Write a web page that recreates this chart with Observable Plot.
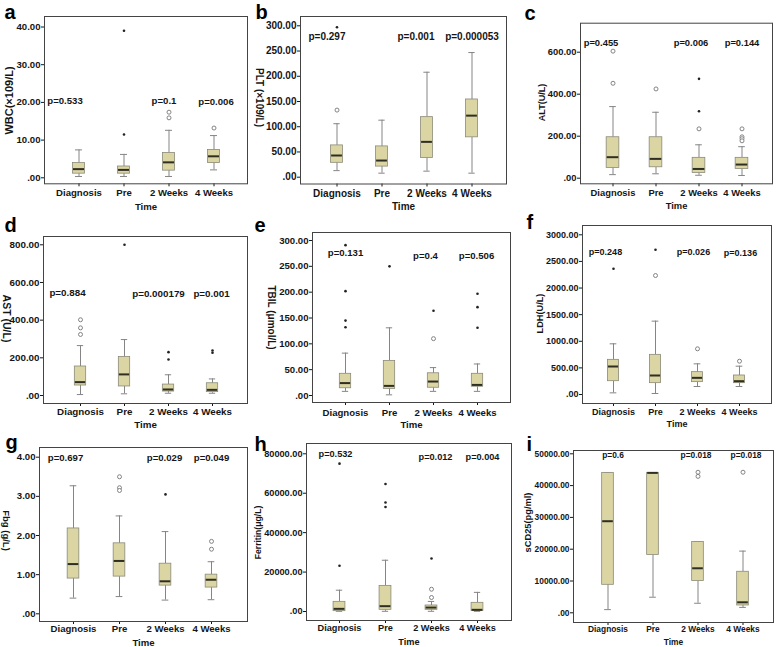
<!DOCTYPE html>
<html>
<head>
<meta charset="utf-8">
<script src="https://cdn.jsdelivr.net/npm/d3@7"></script>
<script src="https://cdn.jsdelivr.net/npm/@observablehq/plot@0.6"></script>
<style>
  body { margin: 0; background: white; }
  #chart { position: relative; width: 778px; height: 647px; background: white; overflow: hidden; }
</style>
</head>
<body>
<div id="chart"></div>
<script>
const categories = ["Diagnosis", "Pre", "2 Weeks", "4 Weeks"];

// Box statistics per category: [lower whisker, Q1, median, Q3, upper whisker]
const wbcBoxes = [[0.35, 1.1, 2.3, 3.9, 7.4], [0.35, 1.1, 2.1, 3.0, 6.2], [0.35, 1.9, 4.1, 6.6, 12.6], [2.1, 3.9, 5.7, 7.4, 11.2]];
const wbcOutliers = [[], [], [17.4, 15.9], [13.2]];
const wbcExtremes = [[], [39, 11.5], [], []];
const wbcP = ["p=0.533", "p=0.1", "p=0.006"];

const pltBoxes = [[13, 28.5, 43, 63, 106], [8, 21, 33, 61, 113], [12, 38, 70, 119, 208], [8, 79, 122, 154, 247]];
const pltOutliers = [[133], [], [], []];
const pltExtremes = [[297], [], [], []];
const pltP = ["p=0.297", "p=0.001", "p=0.000053"];

const altBoxes = [[17, 49, 100, 195, 341], [21, 52, 92, 195, 314], [14, 25, 44, 97, 159], [13, 44, 65, 97, 150]];
const altOutliers = [[605, 452], [425], [235], [235, 197, 188, 178]];
const altExtremes = [[], [], [473, 319], []];
const altP = ["p=0.455", "p=0.006", "p=0.144"];

const astBoxes = [[5, 53, 71, 154, 265], [9, 48, 112, 204, 297], [12, 21, 32, 58, 110], [12, 18, 30, 65, 88]];
const astOutliers = [[402, 359, 324], [], [], []];
const astExtremes = [[], [800], [230, 191], [239, 227]];
const astP = ["p=0.884", "p=0.000179", "p=0.001"];

const tbilBoxes = [[8, 14, 24, 42, 82], [1.3, 12.8, 18.6, 67, 131], [8, 15, 27, 43, 54], [8, 17, 20.5, 42, 61]];
const tbilOutliers = [[], [], [110], []];
const tbilExtremes = [[291, 202, 145, 132], [250], [164], [197, 171, 131]];
const tbilP = ["p=0.131", "p=0.4", "p=0.506"];

const ldhBoxes = [[31, 250, 526, 651, 952], [19, 213, 357, 745, 1378], [150, 232, 313, 420, 576], [150, 213, 250, 357, 532]];
const ldhOutliers = [[], [2235], [858], [626]];
const ldhExtremes = [[2361], [2718], [], []];
const ldhP = ["p=0.248", "p=0.026", "p=0.136"];

const fbgBoxes = [[0.4, 0.9, 1.27, 2.18, 3.27], [0.44, 0.95, 1.35, 1.8, 2.5], [0.35, 0.72, 0.83, 1.28, 2.1], [0.36, 0.67, 0.87, 1.0, 1.33]];
const fbgOutliers = [[], [3.5, 3.22, 3.15], [], [1.85, 1.65]];
const fbgExtremes = [[], [], [3.05], []];
const fbgP = ["p=0.697", "p=0.029", "p=0.049"];

const ferBoxes = [[100, 170, 1350, 4900, 10800], [100, 850, 2700, 13000, 26000], [100, 850, 2000, 3050, 5100], [100, 340, 850, 4400, 9700]];
const ferOutliers = [[], [], [11300, 7100], []];
const ferExtremes = [[75000, 23200], [64700, 55300, 53000], [26900], []];
const ferP = ["p=0.532", "p=0.012", "p=0.004"];

const scdBoxes = [[1000, 8800, 28800, 44000, 44000], [4900, 18200, 44000, 44000, 44000], [3000, 10000, 14000, 22300, 22300], [1700, 2300, 3300, 12900, 19400]];
const scdOutliers = [[], [], [44200, 42900], [44200]];
const scdExtremes = [[], [], [], []];
const scdP = ["p=0.6", "p=0.018", "p=0.018"];

const panelLetters = ["a", "b", "c", "d", "e", "f", "g", "h", "i"];
const yLabels = ["WBC(×109/L)", "PLT (×109/L)", "ALT(U/L)", "AST (U/L)", "TBIL (μmol/L)", "LDH(U/L)", "Fbg (g/L)", "Ferritin(μg/L)", "sCD25(pg/ml)"];
const xLabel = "Time";
const pCategories = ["Diagnosis", "2 Weeks", "4 Weeks"];

const wbcTicks = [0, 10, 20, 30, 40];
const pltTicks = [0, 50, 100, 150, 200, 250, 300];
const altTicks = [0, 200, 400, 600];
const astTicks = [0, 200, 400, 600, 800];
const tbilTicks = [0, 50, 100, 150, 200, 250, 300];
const ldhTicks = [0, 500, 1000, 1500, 2000, 2500, 3000];
const fbgTicks = [0, 1, 2, 3, 4];
const ferTicks = [0, 20000, 40000, 60000, 80000];
const scdTicks = [0, 10000, 20000, 30000, 40000, 50000];

// ---- layout (pixel geometry of each panel) ----
const layouts = [
  {frame: [44, 16, 247, 183.3], centers: [78, 122, 168, 213], zeroPx: 177.3, topPx: 26.5, fs: 9.6, xPad: 2.7, boxW: 12,
   pY: [20.3, 20.3, 20], pDx: [-14, -5, 2], yl: {x: 9, y: 100, rot: -90, fs: 11}, letter: {x: 4, y: 18.5}, timeY: 206.5},
  {frame: [300, 16, 506, 183.5], centers: [335, 382, 428, 472], zeroPx: 176.7, topPx: 25.3, fs: 10, xPad: 2.7, boxW: 12.5,
   pY: [279, 279, 279], pDx: [-10, -11, 0], yl: {x: 259, y: 97, rot: 90, fs: 10}, letter: {x: 255, y: 18.5}, timeY: 206.5},
  {frame: [580, 22.7, 772, 183.3], centers: [612, 654, 698, 742], zeroPx: 177.7, topPx: 51.7, fs: 9.4, xPad: 3, boxW: 13,
   pY: [646, 646, 646], pDx: [-12, -8, 0], yl: {x: 542, y: 102, rot: -90, fs: 9}, letter: {x: 524, y: 19.5}, timeY: 205.5},
  {frame: [43, 236, 247, 403], centers: [79, 123, 168, 213], zeroPx: 395, topPx: 244.3, fs: 9.8, xPad: 1.7, boxW: 12,
   pY: [547, 537, 537], pDx: [-13, -10, -1], yl: {x: 6, y: 318, rot: 90, fs: 10.5}, letter: {x: 4, y: 231}, timeY: 424},
  {frame: [312, 232, 510, 402], centers: [344, 389, 433, 478], zeroPx: 395, topPx: 240, fs: 9.6, xPad: 4, boxW: 12,
   pY: [275, 271, 271], pDx: [0, -8, -1], yl: {x: 271, y: 317, rot: 90, fs: 10}, letter: {x: 254, y: 231}, timeY: 424},
  {frame: [582, 225, 771, 403], centers: [612, 654, 698, 739], zeroPx: 394, topPx: 234.3, fs: 9, xPad: 2.3, boxW: 11.5,
   pY: [2669, 2669, 2650], pDx: [-8, -4, 1], yl: {x: 540, y: 313, rot: -90, fs: 9.2}, letter: {x: 526, y: 228}, timeY: 424},
  {frame: [39, 447, 247, 621], centers: [73, 118, 165, 212], zeroPx: 613.3, topPx: 456.7, fs: 9.6, xPad: 0.8, boxW: 12,
   pY: [3.99, 3.99, 3.99], pDx: [-8, -1, 0], yl: {x: 6, y: 530, rot: 90, fs: 9.5}, letter: {x: 5, y: 448}, timeY: 642},
  {frame: [306, 443, 511, 620], centers: [338, 385, 432, 478], zeroPx: 611, topPx: 453.3, fs: 9.2, xPad: 1.3, boxW: 12.5,
   pY: [79700, 78200, 78200], pDx: [-4, 4, 5], yl: {x: 258, y: 532, rot: -90, fs: 8.6}, letter: {x: 254, y: 450}, timeY: 642},
  {frame: [573, 450, 773, 622], centers: [607, 654, 698, 743], zeroPx: 612.3, topPx: 453.3, fs: 8.4, xPad: 0.5, boxW: 12,
   pY: [49460, 49460, 49460], pDx: [5, -2, 3], yl: {x: 528, y: 522, rot: -90, fs: 9.3}, letter: {x: 526, y: 450}, timeY: 642}
];

const panelData = [
  [wbcBoxes, wbcOutliers, wbcExtremes, wbcP, wbcTicks],
  [pltBoxes, pltOutliers, pltExtremes, pltP, pltTicks],
  [altBoxes, altOutliers, altExtremes, altP, altTicks],
  [astBoxes, astOutliers, astExtremes, astP, astTicks],
  [tbilBoxes, tbilOutliers, tbilExtremes, tbilP, tbilTicks],
  [ldhBoxes, ldhOutliers, ldhExtremes, ldhP, ldhTicks],
  [fbgBoxes, fbgOutliers, fbgExtremes, fbgP, fbgTicks],
  [ferBoxes, ferOutliers, ferExtremes, ferP, ferTicks],
  [scdBoxes, scdOutliers, scdExtremes, scdP, scdTicks]
];

const BOX_FILL = "#dbd5a4";
const BOX_STROKE = "#8a8a78";
const WHISKER = "#858585";
const TEXT = "#151515";
const fmt = v => v === 0 ? ".00" : v.toFixed(2);

const W = 778, H = 647;
const container = document.getElementById("chart");

panelData.forEach(([boxes, outliers, extremes, pTexts, ticks], k) => {
  const cfg = layouts[k];
  const [L, T, R, B] = cfg.frame;
  const c = cfg.centers;
  const step = (c[3] - c[0]) / 3;
  const boxInset = (step - cfg.boxW) / 2;
  const capInset = (step - 7) / 2;
  const stats = categories.map((cat, i) => ({cat, lo: boxes[i][0], q1: boxes[i][1], med: boxes[i][2], q3: boxes[i][3], hi: boxes[i][4]}));
  const outs = categories.flatMap((cat, i) => outliers[i].map(v => ({cat, v})));
  const exts = categories.flatMap((cat, i) => extremes[i].map(v => ({cat, v})));
  const tickMax = ticks[ticks.length - 1];

  const pMarks = pTexts.map((t, j) => Plot.text([{cat: pCategories[j], y: cfg.pY[j], t}], {
    x: "cat", y: "y", text: "t", dx: cfg.pDx[j], fill: TEXT, fontSize: cfg.fs, fontWeight: "bold"
  }));

  const svg = Plot.plot({
    width: W, height: H,
    marginLeft: L, marginRight: W - R, marginTop: T, marginBottom: H - B,
    style: {background: "transparent", fontFamily: "'Liberation Sans', Arial, sans-serif", fontWeight: "bold", fontSize: cfg.fs + "px", color: TEXT, overflow: "visible"},
    x: {type: "band", domain: categories, range: [c[0] - step / 2, c[3] + step / 2], padding: 0},
    y: {type: "linear", domain: [0, tickMax], range: [cfg.zeroPx, cfg.topPx]},
    marks: [
      Plot.axisY({ticks, tickFormat: fmt, tickSize: 3, tickPadding: 1, label: null, color: TEXT}),
      Plot.axisX({tickSize: 3, tickPadding: cfg.xPad, label: null, color: TEXT}),
      Plot.ruleX(stats, {x: "cat", y1: "lo", y2: "q1", stroke: WHISKER, strokeWidth: 1}),
      Plot.ruleX(stats, {x: "cat", y1: "q3", y2: "hi", stroke: WHISKER, strokeWidth: 1}),
      Plot.tickY(stats, {x: "cat", y: "lo", stroke: WHISKER, inset: capInset}),
      Plot.tickY(stats, {x: "cat", y: "hi", stroke: WHISKER, inset: capInset}),
      Plot.rectY(stats, {x: "cat", y1: "q1", y2: "q3", fill: BOX_FILL, stroke: BOX_STROKE, strokeWidth: 0.8, insetLeft: boxInset, insetRight: boxInset}),
      Plot.tickY(stats, {x: "cat", y: "med", stroke: "#2e2e22", strokeWidth: 2, inset: boxInset + 0.5}),
      Plot.dot(outs, {x: "cat", y: "v", r: 2, stroke: "#777", strokeWidth: 0.9, fill: "white"}),
      Plot.dot(exts, {x: "cat", y: "v", r: 1.3, fill: "#222", stroke: "none"}),
      ...pMarks,
      Plot.text([yLabels[k]], {frameAnchor: "top-left", text: d => d, dx: cfg.yl.x - L, dy: cfg.yl.y - T, rotate: cfg.yl.rot,
        textAnchor: "middle", lineAnchor: "middle", fontSize: cfg.yl.fs, fontWeight: "bold", fill: TEXT}),
      Plot.text([xLabel], {frameAnchor: "top-left", text: d => d, dx: (L + R) / 2 - L, dy: cfg.timeY - T,
        textAnchor: "middle", lineAnchor: "middle", fontSize: cfg.fs, fontWeight: "bold", fill: TEXT}),
      Plot.text([panelLetters[k]], {frameAnchor: "top-left", text: d => d, dx: cfg.letter.x - L, dy: cfg.letter.y - T,
        textAnchor: "start", lineAnchor: "bottom", fontSize: 20, fontWeight: "bold", fill: "#000",
        fontFamily: "'Liberation Sans', Arial, sans-serif"}),
      Plot.frame({stroke: "#444", strokeWidth: 1})
    ]
  });
  svg.style.position = "absolute";
  svg.style.left = "0px";
  svg.style.top = "0px";
  container.appendChild(svg);
});
</script>
</body>
</html>
